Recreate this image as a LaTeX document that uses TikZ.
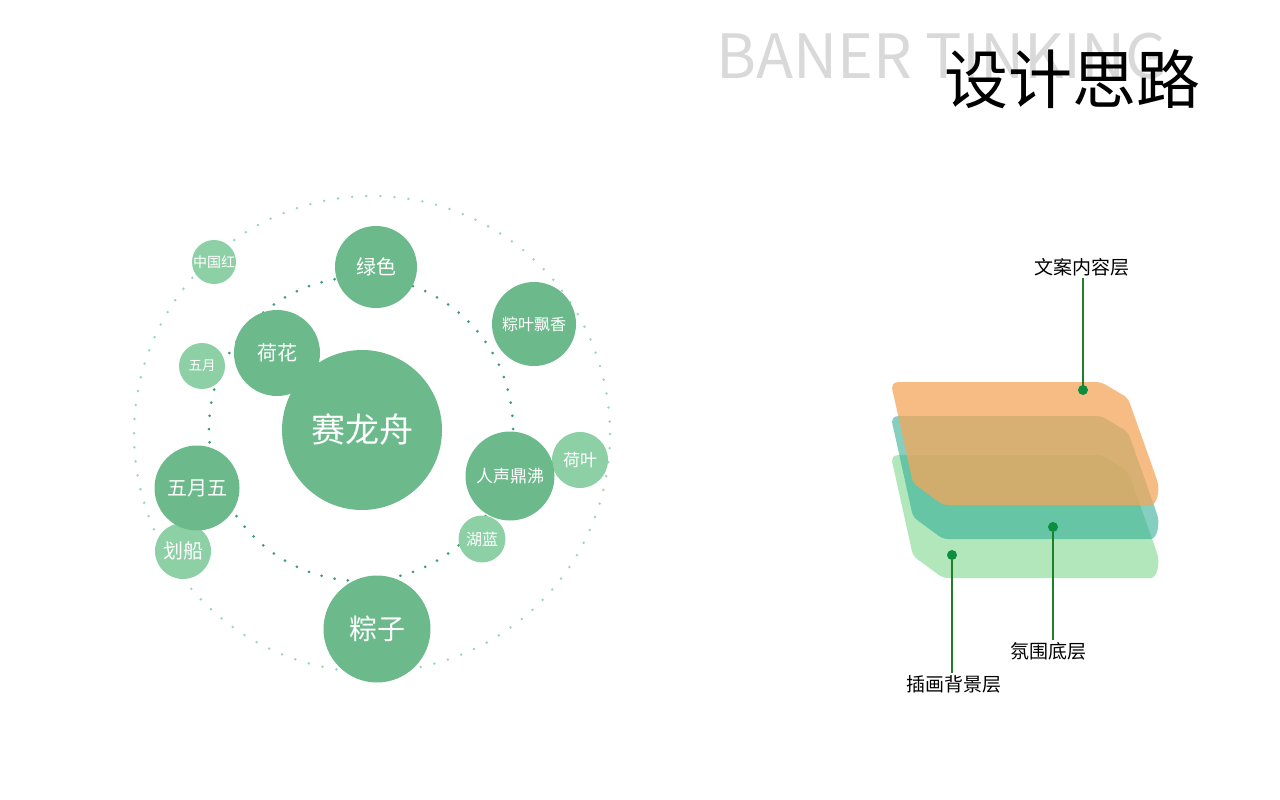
\documentclass[tikz,border=0pt]{standalone}
\usepackage{fontspec}
\setmainfont{Noto Sans CJK SC}
\definecolor{bubbledark}{HTML}{6CBA8C}
\definecolor{bubblelight}{HTML}{8DD0A6}
\definecolor{dotinner}{HTML}{3D9C7F}
\definecolor{dotouter}{HTML}{A3D3BF}
\definecolor{layerorange}{HTML}{F4A65B}
\definecolor{layerteal}{HTML}{35AF96}
\definecolor{layergreen}{HTML}{ADE6B7}
\definecolor{pin}{HTML}{0B8E3E}
\definecolor{pinline}{HTML}{217F2A}
\definecolor{titlegray}{HTML}{D9D9D9}
\newcommand\fsz[1]{\fontsize{#1}{#1}\selectfont}
\tikzset{
  bubble/.style={circle,fill=bubbledark,text=white,inner sep=0pt},
  bubblelt/.style={bubble,fill=bubblelight},
  layerlabel/.style={inner sep=2pt,font=\fsz{19}},
  pindot/.style={circle,fill=pin,minimum size=10,inner sep=0pt},
  pinwire/.style={draw=pinline,line width=1.2}
}
\begin{document}
\begin{tikzpicture}[x=1pt,y=-1pt]
	\useasboundingbox (0,0) rectangle (1280,800);
	\node[anchor=base west,text=titlegray,inner sep=0pt] (titleen) at (716,78) {\fsz{61}BANER TINKING};
	\node[inner sep=0pt] (titlecn) at (1072,79) {\fsz{64}设计思路};
	\foreach \a in {0,3.4,...,357} \fill[dotouter] (372,434) ++(\a:238) circle (1.4);
	\foreach \a in {0,5,...,355} \fill[dotinner] (361,429) ++(\a:152) circle (1.5);
	\node[bubblelt,minimum size=44] (zhongguohong) at (214,262) {\fsz{14}中国红};
	\node[bubblelt,minimum size=46] (wuyue) at (202,366) {\fsz{13.5}五月};
	\node[bubblelt,minimum size=56] (heye) at (580,460) {\fsz{17}荷叶};
	\node[bubblelt,minimum size=47] (hulan) at (482,539) {\fsz{16}湖蓝};
	\node[bubblelt,minimum size=56] (huachuan) at (183,551) {\fsz{20}划船};
	\node[bubble,minimum size=160] (sailongzhou) at (362,430) {\fsz{34}赛龙舟};
	\node[bubble,minimum size=82] (lvse) at (376,267) {\fsz{20}绿色};
	\node[bubble,minimum size=86] (hehua) at (277,353) {\fsz{20}荷花};
	\node[bubble,minimum size=84] (zongye) at (534,324) {\fsz{16}粽叶飘香};
	\node[bubble,minimum size=89] (renshengs) at (510,476) {\fsz{17}人声鼎沸};
	\node[bubble,minimum size=85] (wuyuewu) at (197,488) {\fsz{20}五月五};
	\node[bubble,minimum size=107] (zongzi) at (377,629) {\fsz{28}粽子};
	\foreach \dy/\col/\op in {73/layergreen/0.95,34/layerteal/0.6,0/layerorange/0.75}
		\fill[\col,fill opacity=\op,rounded corners=5,shift={(894,382+\dy)}] (0,15) .. controls (-3,3) and (-1,0) .. (10,0) -- (207,0) -- (234,16) -- (262,95) .. controls (266,108) and (263,123) .. (252,123) -- (49,123) -- (19,101) -- cycle;
	\node[layerlabel] (wenan) at (1082,267) {文案内容层};
	\node[layerlabel] (qifen) at (1048,651) {氛围底层};
	\node[layerlabel] (chahua) at (954,684) {插画背景层};
	\draw[pinwire] (wenan.south -| 1083,0) -- (1083,390);
	\node[pindot] (wenandot) at (1083,390) {};
	\node[pindot] (qifendot) at (1053,527) {};
	\node[pindot] (chahuadot) at (952,555) {};
	\draw[pinwire] (qifendot) -- (qifendot |- qifen.north);
	\draw[pinwire] (chahuadot) -- (chahuadot |- chahua.north);
\end{tikzpicture}
\end{document}
